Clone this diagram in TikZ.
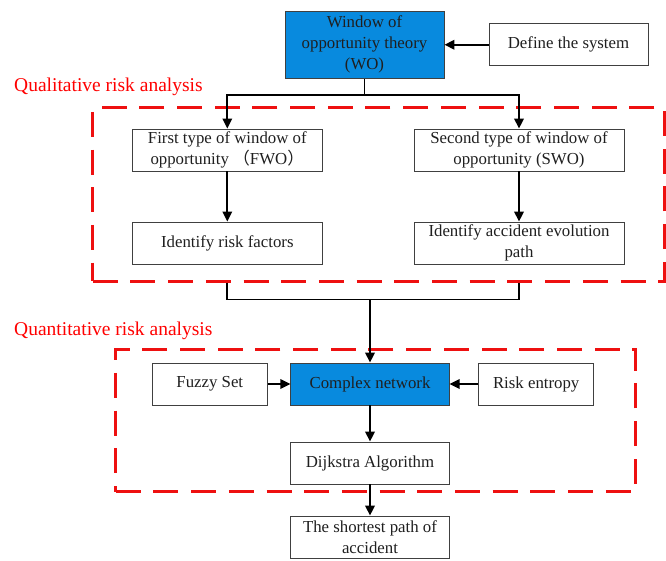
\documentclass[tikz,border=0pt]{standalone}
\usepackage{fontspec}
\setmainfont{Liberation Serif}
\newfontfamily\cjkfont{Noto Sans CJK SC}
\usetikzlibrary{arrows.meta}
\definecolor{woblue}{RGB}{8,138,222}
\definecolor{zonered}{RGB}{238,16,16}
\begin{document}
\begin{tikzpicture}[x=1pt,y=-1pt,
  box/.style={draw=black!75, line width=0.9pt, fill=white, align=center,
    inner sep=2pt, minimum height=42pt,
    font=\fontsize{16.8}{21}\selectfont, text=black!88},
  keybox/.style={box, fill=woblue},
  link/.style={draw=black, line width=1.8pt},
  arrow/.style={link, -{Triangle[length=10pt,width=9.5pt]}},
  zone/.style={draw=zonered, line width=3pt, dash pattern=on 25pt off 12.7pt,
    inner sep=0pt},
  zonelabel/.style={text=red, font=\fontsize{19.5}{22}\selectfont,
    anchor=base west, inner sep=0pt}]

\useasboundingbox (0,0) rectangle (666,561);

% dashed analysis zones
\node[zone, minimum width=571.3pt, minimum height=173pt] (qual) at (378.35,194.5) {};
\node[zone, minimum width=520pt, minimum height=142.5pt] (quant) at (375.7,420.25) {};
\node[zonelabel] (qlabel) at (14,92) {Qualitative risk analysis};
\node[zonelabel] (nlabel) at (14,335) {Quantitative risk analysis};

% qualitative part
\node[keybox, minimum width=159pt, minimum height=67pt] (wo) at (364.5,44.75)
  {Window of\\opportunity theory\\(WO)};
\node[box, minimum width=159pt] (def) at (568.5,44.75) {Define the system};
\node[box, minimum width=190.7pt] (fwo) at (227.3,150)
  {First type of window of\\opportunity {\cjkfont （}FWO{\cjkfont ）}};
\node[box, minimum width=210pt] (swo) at (519,150)
  {Second type of window of\\opportunity (SWO)};
\node[box, minimum width=190.7pt] (risk) at (227.3,243) {Identify risk factors};
\node[box, minimum width=210pt] (path) at (519,243)
  {Identify accident evolution\\path};

% quantitative part
\node[box, minimum width=115pt] (fuzzy) at (209.8,384) {Fuzzy Set};
\node[keybox, minimum width=158.3pt] (cn) at (370,384) {Complex network};
\node[box, minimum width=115pt] (entropy) at (536.2,384) {Risk entropy};
\node[box, minimum width=158.3pt] (dij) at (370,463) {Dijkstra Algorithm};
\node[box, minimum width=158.3pt] (sp) at (370,537)
  {The shortest path of\\accident};

% connectors
\draw[arrow] (def) -- (wo);
\draw[link] (wo.south) -- ++(0,16) coordinate (split);
\draw[arrow] (split) -| (fwo.north);
\draw[arrow] (split) -| (swo.north);
\draw[arrow] (fwo) -- (risk);
\draw[arrow] (swo) -- (path);
\path (qual.south) ++(0,17) coordinate (merge);
\draw[link] (risk.south |- qual.south) -- (risk.south |- merge)
  -- (path.south |- merge) -- (path.south |- qual.south);
\draw[arrow] (cn.north |- merge) -- (cn.north);
\draw[arrow] (fuzzy) -- (cn);
\draw[arrow] (entropy) -- (cn);
\draw[arrow] (cn) -- (dij);
\draw[arrow] (dij) -- (sp);
\end{tikzpicture}
\end{document}
